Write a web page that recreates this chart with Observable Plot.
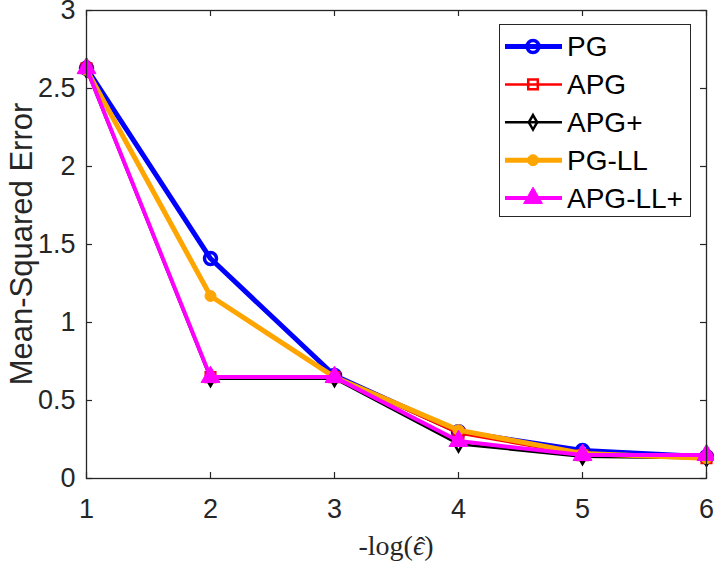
<!DOCTYPE html>
<html>
<head>
<meta charset="utf-8">
<script src="https://cdn.jsdelivr.net/npm/d3@7"></script>
<script src="https://cdn.jsdelivr.net/npm/@observablehq/plot@0.6"></script>
<style>
  html, body { margin: 0; padding: 0; background: #fff; }
  #chart { width: 714px; height: 562px; }
</style>
</head>
<body>
<div id="chart"></div>
<script>
// ---- data ----
const xs = [1, 2, 3, 4, 5, 6];
const pg        = [2.63, 1.41, 0.66, 0.30, 0.18, 0.14];
const apg       = [2.63, 0.65, 0.65, 0.29, 0.15, 0.13];
const apgPlus   = [2.62, 0.64, 0.64, 0.22, 0.14, 0.13];
const pgLL      = [2.62, 1.17, 0.65, 0.31, 0.16, 0.13];
const apgLLPlus = [2.63, 0.65, 0.65, 0.24, 0.15, 0.15];
const seriesNames = ["PG", "APG", "APG+", "PG-LL", "APG-LL+"];
const xTicks = [1, 2, 3, 4, 5, 6];
const yTicks = [0, 0.5, 1, 1.5, 2, 2.5, 3];
const xLabelPre = "-log(";
const xLabelVar = "\u03F5";
const xLabelHat = "\u02C6";
const xLabelPost = ")";
const yLabel = "Mean-Squared Error";

// ---- styles ----
const styles = [
  {color: "#0000ff", lw: 5,   symbol: "circle",  r: 6,   mw: 3.5, filled: false},
  {color: "#ff0000", lw: 2.5, symbol: "square",  r: 5.4, mw: 2.5, filled: false},
  {color: "#000000", lw: 2.5, symbol: "diamond", r: 4.4, mw: 2.5, filled: false},
  {color: "#ffa500", lw: 5,   symbol: "circle",  r: 5.5, mw: 1,   filled: true},
  {color: "#ff00ff", lw: 4,   symbol: "triangle",r: 7,   mw: 1,   filled: true}
];
const seriesValues = [pg, apg, apgPlus, pgLL, apgLLPlus];

const W = 714, H = 562;
const mL = 86, mR = 8, mT = 10, mB = 84;
const innerW = W - mL - mR, innerH = H - mT - mB;
const axisColor = "#262626";
const sans = "'Liberation Sans', Arial, sans-serif";
const serif = "'Liberation Serif', 'DejaVu Serif', serif";

const marks = [];
seriesValues.forEach((vals, k) => {
  const s = styles[k];
  const data = xs.map((x, i) => ({x, y: vals[i]}));
  marks.push(Plot.line(data, {x: "x", y: "y", stroke: s.color, strokeWidth: s.lw, strokeLinejoin: "round"}));
  marks.push(Plot.dot(data, {x: "x", y: "y", symbol: s.symbol, r: s.r, stroke: s.color,
    strokeWidth: s.mw, fill: s.filled ? s.color : "none"}));
});

const plot = Plot.plot({
  width: W, height: H,
  marginLeft: mL, marginRight: mR, marginTop: mT, marginBottom: mB,
  x: {domain: [1, 6], label: null},
  y: {domain: [0, 3], label: null},
  style: {fontFamily: sans, background: "#fff", overflow: "visible"},
  marks: [
    ...marks,
    Plot.frame({stroke: axisColor, strokeWidth: 1.3}),
    Plot.ruleX(xTicks, {x: d => d, insetTop: innerH - 6, stroke: axisColor, strokeWidth: 1.2}),
    Plot.ruleX(xTicks, {x: d => d, insetBottom: innerH - 6, stroke: axisColor, strokeWidth: 1.2}),
    Plot.ruleY(yTicks, {y: d => d, insetRight: innerW - 6, stroke: axisColor, strokeWidth: 1.2}),
    Plot.ruleY(yTicks, {y: d => d, insetLeft: innerW - 6, stroke: axisColor, strokeWidth: 1.2}),
    Plot.axisX(xTicks, {tickSize: 0, tickPadding: 20, fontSize: 27, fill: axisColor, tickFormat: d => String(d)}),
    Plot.axisY(yTicks, {tickSize: 0, tickPadding: 11, fontSize: 27, fill: axisColor, tickFormat: d => String(d)})
  ]
});
document.getElementById("chart").appendChild(plot);

const svg = d3.select(plot);
// y label
svg.append("text")
  .attr("transform", `translate(32,${mT + innerH / 2}) rotate(-90)`)
  .attr("text-anchor", "middle")
  .attr("fill", axisColor)
  .style("font-family", sans)
  .style("font-size", "31px")
  .text(yLabel);
// x label (single text element, hat placed over the epsilon with dx)
const xl = svg.append("text")
  .attr("x", mL + innerW / 2).attr("y", 555)
  .attr("text-anchor", "middle")
  .attr("fill", axisColor)
  .style("font-family", serif)
  .style("font-size", "28px");
xl.append("tspan").text(xLabelPre);
const epsT = xl.append("tspan").style("font-style", "italic").text(xLabelVar);
const hatT = xl.append("tspan").text(xLabelHat);
const postT = xl.append("tspan").text(xLabelPost);
try {
  const wE = epsT.node().getComputedTextLength();
  const wH = hatT.node().getComputedTextLength();
  hatT.attr("dx", -(wE / 2 + wH / 2) + 2).attr("dy", 1);
  postT.attr("dx", wE / 2 - wH / 2 - 2).attr("dy", -1);
} catch (e) {}

// legend
const lg = svg.append("g").attr("text-anchor", "start");
lg.append("rect").attr("x", 499.5).attr("y", 24.5).attr("width", 191).attr("height", 192)
  .attr("fill", "#fff").attr("stroke", axisColor).attr("stroke-width", 1);
seriesNames.forEach((name, k) => {
  const s = styles[k];
  const yy = 46.5 + k * 37.9;
  lg.append("line").attr("x1", 505).attr("x2", 562).attr("y1", yy).attr("y2", yy)
    .attr("stroke", s.color).attr("stroke-width", s.lw);
  const sym = {circle: d3.symbolCircle, square: d3.symbolSquare, diamond: d3.symbolDiamond, triangle: d3.symbolTriangle}[s.symbol];
  if (s.symbol === "circle") {
    lg.append("circle").attr("cx", 533).attr("cy", yy).attr("r", s.r)
      .attr("fill", s.filled ? s.color : "none").attr("stroke", s.color).attr("stroke-width", s.mw);
  } else {
    lg.append("path").attr("transform", `translate(533,${yy})`)
      .attr("d", d3.symbol(sym, s.r * s.r * Math.PI)())
      .attr("fill", s.filled ? s.color : "none").attr("stroke", s.color).attr("stroke-width", s.mw);
  }
  lg.append("text").attr("x", 567).attr("y", yy).attr("dy", "0.35em")
    .attr("text-anchor", "start")
    .attr("fill", "#000")
    .style("font-family", sans)
    .style("font-size", "28px")
    .text(name);
});
</script>
</body>
</html>
